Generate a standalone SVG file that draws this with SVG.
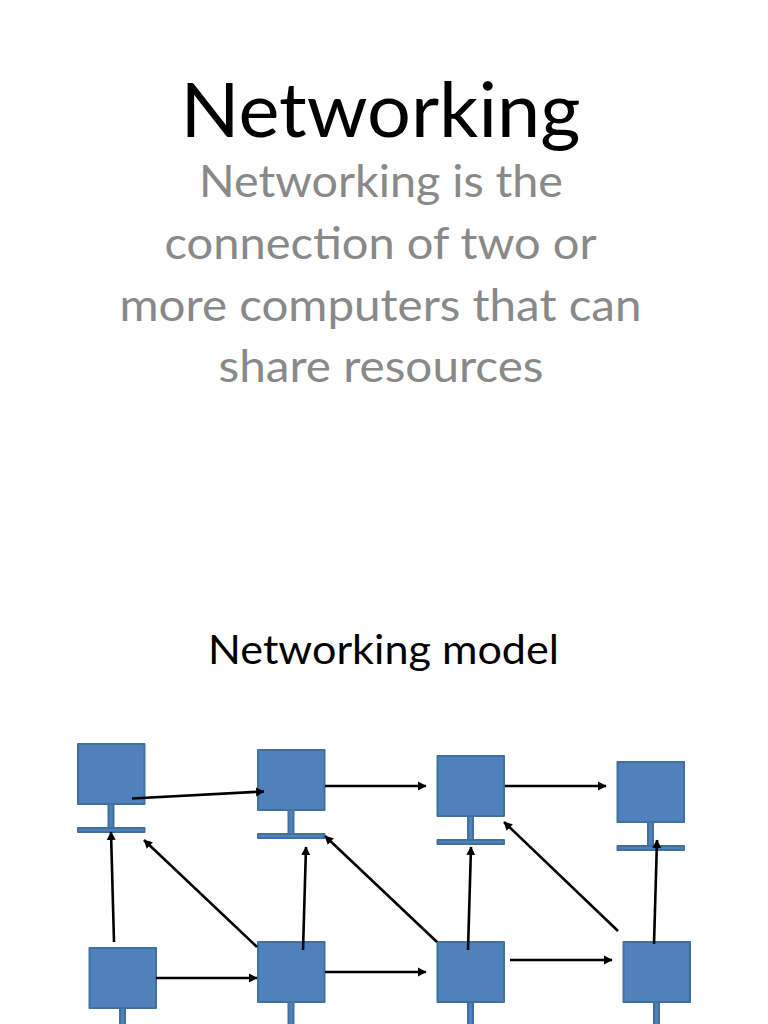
<svg xmlns="http://www.w3.org/2000/svg" width="768" height="1024" viewBox="0 0 768 1024">
<style>
text{font-family:"Lato","Open Sans",sans-serif;text-anchor:middle}
.t{font-size:75px;fill:#000}
.b{font-size:44px;fill:#898989}
.s{font-size:40px;fill:#000}
.m{fill:#4f81bd;stroke:#41709f;stroke-width:2;stroke-linejoin:round}
.c line{stroke:#000;stroke-width:2.6;marker-end:url(#a)}
</style>
<defs>
<symbol id="pc" overflow="visible">
<rect class="m" x="30.500" y="60" width="5" height="24"/>
<rect class="m" x="0" y="84" width="66.500" height="4"/>
<rect class="m" x="0" y="0" width="66.500" height="60"/>
</symbol>
<symbol id="pcb" overflow="visible">
<rect class="m" x="30.500" y="60" width="5" height="40"/>
<rect class="m" x="0" y="0" width="66.500" height="60"/>
</symbol>
<marker id="a" markerUnits="userSpaceOnUse" markerWidth="9" markerHeight="10" refX="8" refY="5" orient="auto"><path d="M0 0.500L8.500 5L0 9.500Z" fill="#000"/></marker>
</defs>
<rect width="768" height="1024" fill="#fff"/>
<text class="t" x="380.500" y="137" textLength="400" lengthAdjust="spacingAndGlyphs">Networking</text>
<text class="b" x="381" y="197" textLength="364" lengthAdjust="spacingAndGlyphs">Networking is the</text>
<text class="b" x="380.500" y="259" textLength="432" lengthAdjust="spacingAndGlyphs">connection of two or</text>
<text class="b" x="380.500" y="321" textLength="522" lengthAdjust="spacingAndGlyphs">more computers that can</text>
<text class="b" x="381" y="382" textLength="325" lengthAdjust="spacingAndGlyphs">share resources</text>
<text class="s" x="383.500" y="664" textLength="351" lengthAdjust="spacingAndGlyphs">Networking model</text>
<g id="pc1"><use href="#pc" x="78" y="744"/></g>
<g id="pc2"><use href="#pc" x="258" y="750"/></g>
<g id="pc3"><use href="#pc" x="437.500" y="756"/></g>
<g id="pc4"><use href="#pc" x="617.500" y="762"/></g>
<g id="pc5"><use href="#pcb" x="89.500" y="948"/></g>
<g id="pc6"><use href="#pcb" x="258" y="942"/></g>
<g id="pc7"><use href="#pcb" x="437.500" y="942"/></g>
<g id="pc8"><use href="#pcb" x="623.500" y="942"/></g>
<g id="connectors" class="c">
<line x1="132" y1="798.500" x2="264" y2="791.500"/>
<line x1="325" y1="786" x2="426" y2="786"/>
<line x1="505" y1="786" x2="606" y2="786"/>
<line x1="114" y1="942" x2="111" y2="832"/>
<line x1="257" y1="947" x2="144" y2="840"/>
<line x1="303" y1="950" x2="306" y2="847"/>
<line x1="437" y1="942" x2="325" y2="836"/>
<line x1="468" y1="950" x2="471" y2="847"/>
<line x1="618" y1="931" x2="504" y2="822"/>
<line x1="654" y1="944" x2="657" y2="840"/>
<line x1="156" y1="978" x2="257" y2="978"/>
<line x1="325" y1="972" x2="426" y2="972"/>
<line x1="510" y1="960" x2="612" y2="960"/>
</g>
</svg>
